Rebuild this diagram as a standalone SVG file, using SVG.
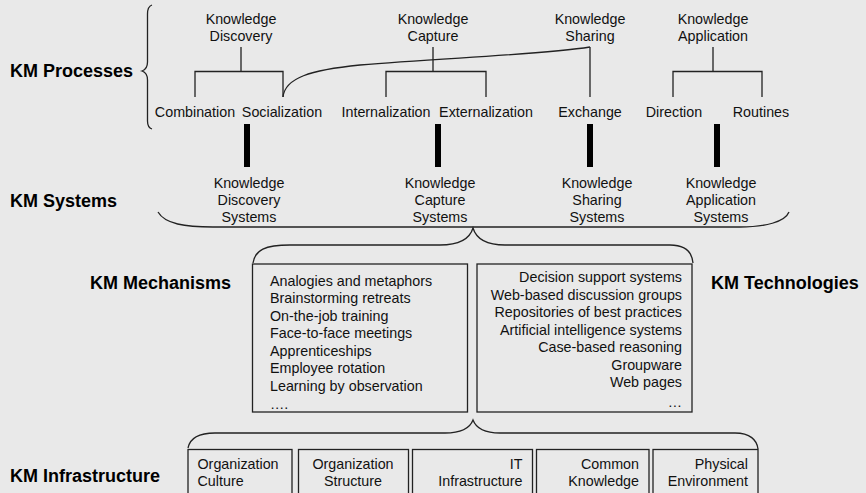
<svg xmlns="http://www.w3.org/2000/svg" width="866" height="493" viewBox="0 0 866 493">
  <style>
    .bg { fill: #e9e9e9; }
    .ln { fill: none; stroke: #222; stroke-width: 1.3; }
    .bar { fill: #000; }
    .box { fill: none; stroke: #222; stroke-width: 1.3; }
    .t { font-family: "Liberation Sans", Arial, sans-serif; font-size: 14.3px; fill: #111; }
    .c { text-anchor: middle; }
    .r { text-anchor: end; }
    .h { font-family: "Liberation Sans", Arial, sans-serif; font-size: 18px; font-weight: bold; fill: #000; }
  </style>
  <rect class="bg" x="0" y="0" width="866" height="493"/>

  <!-- layer headings -->
  <g id="headings">
    <text class="h" x="10" y="77">KM Processes</text>
    <text class="h" x="10" y="207">KM Systems</text>
    <text class="h" x="90" y="289">KM Mechanisms</text>
    <text class="h" x="711" y="289">KM Technologies</text>
    <text class="h" x="10" y="482">KM Infrastructure</text>
  </g>

  <!-- connectors: trees, braces and bars -->
  <g id="connectors">
    <!-- processes brace -->
    <path class="ln" d="M152,5 C149,6 147.5,9 147.5,14 L147.5,62 C147.5,67 145,70 142,71 C145,72 147.5,75 147.5,80 L147.5,121 C147.5,126 149,128 152,129"/>
    <!-- discovery tree -->
    <path class="ln" d="M241,47 V71.5 M195,97 V71.5 H283 V97"/>
    <!-- capture tree -->
    <path class="ln" d="M433,47 V71.5 M386,97 V71.5 H486 V97"/>
    <!-- sharing stem and link to socialization -->
    <path class="ln" d="M590,47 V97"/>
    <path class="ln" d="M283,97 C285,78 310,70 360,65 C440,58 540,55 590,47"/>
    <!-- application tree -->
    <path class="ln" d="M713,47 V71.5 M673,97 V71.5 H762 V97"/>
    <!-- bars from processes to systems -->
    <rect class="bar" x="244" y="124" width="6" height="43"/>
    <rect class="bar" x="435" y="124" width="6" height="43"/>
    <rect class="bar" x="587" y="124" width="6" height="43"/>
    <rect class="bar" x="714" y="124" width="6" height="43"/>
    <!-- systems brace -->
    <path class="ln" d="M158,212 C165,224 185,227 213,227 L740,227 C765,227 785,222 789,212"/>
    <!-- mechanisms / technologies brace -->
    <path class="ln" d="M253,263 C255,250 265,245 290,245 L440,245 C460,245 470,238 473,228 C476,238 486,245 505,245 L670,245 C685,245 692,252 693,263"/>
    <!-- infrastructure brace -->
    <path class="ln" d="M188,448 C190,438 198,433 215,433 L445,433 C462,433 470,428 473,420 C476,428 484,433 500,433 L735,433 C750,433 757,440 758,449"/>
  </g>

  <!-- KM processes -->
  <g id="proc-discovery">
    <text class="t c" x="241" y="23.5">Knowledge</text>
    <text class="t c" x="241" y="40.5">Discovery</text>
  </g>
  <g id="proc-capture">
    <text class="t c" x="433" y="23.5">Knowledge</text>
    <text class="t c" x="433" y="40.5">Capture</text>
  </g>
  <g id="proc-sharing">
    <text class="t c" x="590" y="23.5">Knowledge</text>
    <text class="t c" x="590" y="40.5">Sharing</text>
  </g>
  <g id="proc-application">
    <text class="t c" x="713" y="23.5">Knowledge</text>
    <text class="t c" x="713" y="40.5">Application</text>
  </g>
  <g id="sub-combination"><text class="t c" x="195" y="117">Combination</text></g>
  <g id="sub-socialization"><text class="t c" x="282" y="117">Socialization</text></g>
  <g id="sub-internalization"><text class="t c" x="386" y="117">Internalization</text></g>
  <g id="sub-externalization"><text class="t c" x="486" y="117">Externalization</text></g>
  <g id="sub-exchange"><text class="t c" x="590" y="117">Exchange</text></g>
  <g id="sub-direction"><text class="t c" x="674" y="117">Direction</text></g>
  <g id="sub-routines"><text class="t c" x="761" y="117">Routines</text></g>

  <!-- KM systems -->
  <g id="sys-discovery">
    <text class="t c" x="249" y="188">Knowledge</text>
    <text class="t c" x="249" y="205">Discovery</text>
    <text class="t c" x="249" y="222">Systems</text>
  </g>
  <g id="sys-capture">
    <text class="t c" x="440" y="188">Knowledge</text>
    <text class="t c" x="440" y="205">Capture</text>
    <text class="t c" x="440" y="222">Systems</text>
  </g>
  <g id="sys-sharing">
    <text class="t c" x="597" y="188">Knowledge</text>
    <text class="t c" x="597" y="205">Sharing</text>
    <text class="t c" x="597" y="222">Systems</text>
  </g>
  <g id="sys-application">
    <text class="t c" x="721" y="188">Knowledge</text>
    <text class="t c" x="721" y="205">Application</text>
    <text class="t c" x="721" y="222">Systems</text>
  </g>

  <!-- KM mechanisms -->
  <g id="mechanisms">
    <rect class="box" x="252.5" y="264" width="215" height="148"/>
    <text class="t" x="270" y="285.5">Analogies and metaphors</text>
    <text class="t" x="270" y="303">Brainstorming retreats</text>
    <text class="t" x="270" y="320.5">On-the-job training</text>
    <text class="t" x="270" y="338">Face-to-face meetings</text>
    <text class="t" x="270" y="355.5">Apprenticeships</text>
    <text class="t" x="270" y="373">Employee rotation</text>
    <text class="t" x="270" y="390.5">Learning by observation</text>
    <text class="t" x="270" y="408.5">….</text>
  </g>

  <!-- KM technologies -->
  <g id="technologies">
    <rect class="box" x="477" y="264" width="215" height="148"/>
    <text class="t r" x="682" y="282">Decision support systems</text>
    <text class="t r" x="682" y="299.5">Web-based discussion groups</text>
    <text class="t r" x="682" y="317">Repositories of best practices</text>
    <text class="t r" x="682" y="334.5">Artificial intelligence systems</text>
    <text class="t r" x="682" y="352">Case-based reasoning</text>
    <text class="t r" x="682" y="369.5">Groupware</text>
    <text class="t r" x="682" y="387">Web pages</text>
    <text class="t r" x="682" y="406.5">…</text>
  </g>

  <!-- KM infrastructure -->
  <g id="infra-culture">
    <rect class="box" x="188" y="449.5" width="104" height="50"/>
    <text class="t" x="197.5" y="468.5">Organization</text>
    <text class="t" x="197.5" y="486">Culture</text>
  </g>
  <g id="infra-structure">
    <rect class="box" x="298.5" y="449.5" width="110" height="50"/>
    <text class="t c" x="353" y="468.5">Organization</text>
    <text class="t c" x="353" y="486">Structure</text>
  </g>
  <g id="infra-it">
    <rect class="box" x="412.5" y="449.5" width="120" height="50"/>
    <text class="t r" x="522.5" y="468.5">IT</text>
    <text class="t r" x="522.5" y="486">Infrastructure</text>
  </g>
  <g id="infra-common">
    <rect class="box" x="536.5" y="449.5" width="112.5" height="50"/>
    <text class="t r" x="639" y="468.5">Common</text>
    <text class="t r" x="639" y="486">Knowledge</text>
  </g>
  <g id="infra-physical">
    <rect class="box" x="653" y="449.5" width="105" height="50"/>
    <text class="t r" x="748" y="468.5">Physical</text>
    <text class="t r" x="748" y="486">Environment</text>
  </g>
</svg>
